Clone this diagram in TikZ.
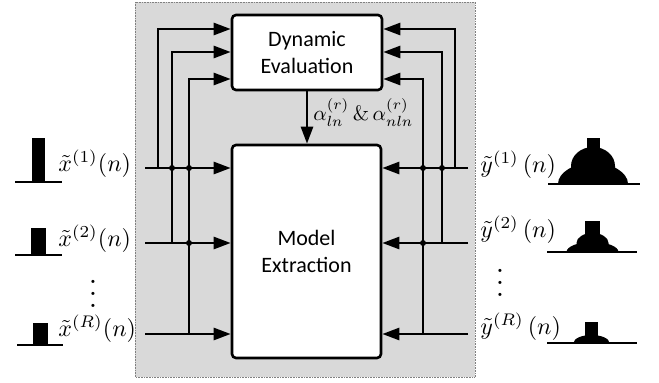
\RequirePackage{fix-cm}
\documentclass[tikz,border=0pt]{standalone}
\usepackage{fontspec}
\newfontfamily\blockfont{Carlito}
\usepackage{xcolor}
\usepackage{tikz}
\usetikzlibrary{arrows, arrows.meta}
\usetikzlibrary{positioning}

\definecolor{panelgray}{RGB}{217,217,217}

\tikzset{
  blockbox/.style={draw, line width=2.6pt, rounded corners=4pt, fill=white, align=center,
    font=\blockfont\fontsize{22}{27}\selectfont, inner sep=0pt},
  sigline/.style={line width=2.6pt},
  sigarrow/.style={sigline, -{Triangle[length=17pt, width=12pt]}},
  hopdot/.style={circle, fill=black, inner sep=0pt, minimum size=6pt},
  siglabel/.style={inner sep=0pt, anchor=base west, scale=2.4},
  vdotslabel/.style={inner sep=0pt, scale=3},
}

\begin{document}
\begin{tikzpicture}[x=1pt, y=-1pt]
  \useasboundingbox (0,0) rectangle (659,383);

  % shaded panel
  \fill[panelgray] (135,2) rectangle (475,377);
  \draw[gray, line width=0.6pt, densely dotted] (135,2) rectangle (475,377);

  \node[blockbox, minimum width=150pt, minimum height=75pt] (dyneval) at (307,52.5) {Dynamic\\Evaluation};
  \node[blockbox, minimum width=149pt, minimum height=213pt] (modext) at (306.5,251.5) {Model\\Extraction};

  \draw[sigarrow] (dyneval.south -| 307,0) -- (modext.north -| 307,0);
  \node[anchor=base west, inner sep=0pt, scale=2.1] (alphas) at (313,120)
    {$\alpha_{ln}^{(r)}\,\&\,\alpha_{nln}^{(r)}$};

  % inputs on the left
  \foreach \i/\tx/\ty/\te in {1/158/168/29, 2/172/243/52, R/189/334/79} {
    \coordinate (xin\i) at (145,\ty);
    \coordinate (xtap\i) at (\tx,\ty);
    \draw[sigarrow] (xin\i) -- (xin\i -| modext.west);
    \draw[sigarrow] (xtap\i) |- (dyneval.west |- 0,\te);
  }
  % outputs on the right
  \foreach \i/\tx/\ty/\te in {1/455/168/29, 2/442/243/52, R/423/334/79} {
    \coordinate (yin\i) at (468,\ty);
    \coordinate (ytap\i) at (\tx,\ty);
    \draw[sigarrow] (yin\i) -- (yin\i -| modext.east);
    \draw[sigarrow] (ytap\i) |- (dyneval.east |- 0,\te);
  }
  \foreach \p in {(172,168), (189,168), (189,243), (423,168), (442,168), (423,243)}
    \node[hopdot] at \p {};

  % signal labels
  \node[siglabel] (xlab1) at (58,171) {$\tilde{x}^{(1)}(n)$};
  \node[siglabel] (xlab2) at (58,246) {$\tilde{x}^{(2)}(n)$};
  \node[siglabel] (xlabR) at (58,336) {$\tilde{x}^{(R)}(n)$};
  \node[vdotslabel] (xdots) at (93,285) {$\vdots$};
  \node[siglabel] (ylab1) at (480,172) {$\tilde{y}^{(1)}\,(n)$};
  \node[siglabel] (ylab2) at (480,237) {$\tilde{y}^{(2)}\,(n)$};
  \node[siglabel] (ylabR) at (480,334) {$\tilde{y}^{(R)}\,(n)$};
  \node[vdotslabel] (ydots) at (500,274) {$\vdots$};

  % input pulses
  \draw[line width=2.2pt] (15,182) -- (62,182);
  \fill (32,138) rectangle (45,182);
  \draw[line width=2.2pt] (15,255) -- (62,255);
  \fill (31,228) rectangle (46,255);
  \draw[line width=2.2pt] (17,345) -- (63,345);
  \fill (33,323) rectangle (48,345);

  % output spectra
  \draw[line width=2.2pt] (548,184) -- (640,184);
  \fill (558,184) arc[start angle=180, end angle=0, x radius=35pt, y radius=21pt] -- cycle;
  \fill (571,184) -- (571,166) arc[start angle=180, end angle=0, x radius=22pt, y radius=19pt] -- (615,184) -- cycle;
  \fill (587,138) rectangle (600,184);

  \draw[line width=2.2pt] (547,252) -- (637,252);
  \fill (566.5,252) arc[start angle=180, end angle=0, x radius=26pt, y radius=10pt] -- cycle;
  \fill (576.5,252) -- (576.5,243) arc[start angle=180, end angle=0, x radius=16pt, y radius=10pt] -- (608.5,252) -- cycle;
  \fill (585,221) rectangle (600,252);

  \draw[line width=2.2pt] (547,343) -- (637,343);
  \fill (573.5,343) arc[start angle=180, end angle=0, x radius=18pt, y radius=8pt] -- cycle;
  \fill (585,322) rectangle (598,343);
\end{tikzpicture}
\end{document}
